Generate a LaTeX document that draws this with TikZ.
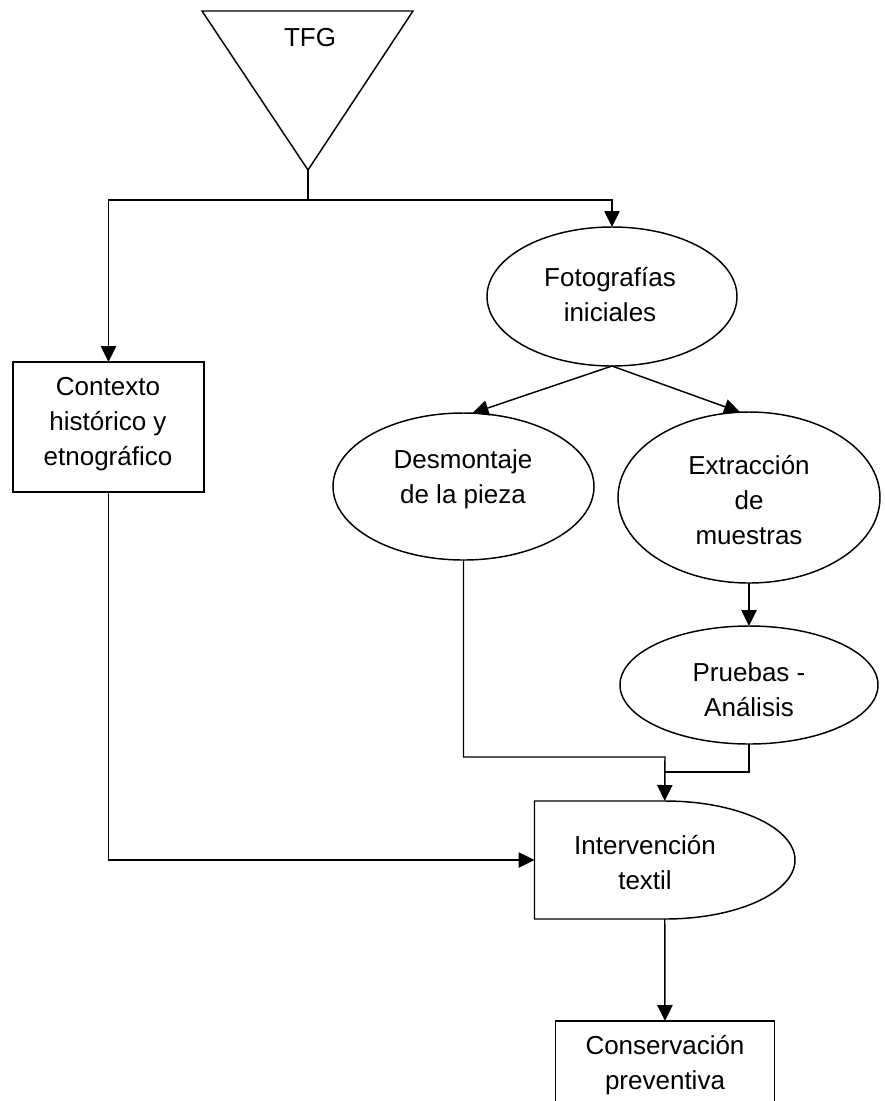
\documentclass[tikz,border=0pt]{standalone}
\usepackage{fontspec}
\setmainfont{Liberation Sans}
\usetikzlibrary{shapes.geometric,arrows.meta}

\tikzset{every picture/.style={line width=1.1pt}}
\tikzset{
  flecha/.style={-{Triangle[length=12pt,width=11.5pt]}},
  caja/.style={draw, rectangle, inner sep=0pt, outer sep=0pt},
  ovalo/.style={draw, ellipse, inner sep=0pt, outer sep=0pt},
  texto/.style={align=center, inner sep=0.75pt, font=\fontsize{19.5}{26.25}\selectfont},
}

\begin{document}
\begin{tikzpicture}[x=0.75pt,y=0.75pt,yscale=-1,xscale=1]
\clip (0,0) rectangle (885,1101);

%Shape: Triangle
\draw (202,11) -- (413,11) -- (308,170) -- cycle ;
\coordinate (tfgtip) at (308,170);
\coordinate (split) at (308,200);

%Shape: Rectangle
\node (ctx) [caja, minimum width=143.25pt, minimum height=97.5pt] at (108.5,427) {};
%Shape: Ellipse
\node (foto) [ovalo, minimum width=187.5pt, minimum height=104.25pt] at (612,296.5) {};
%Shape: Ellipse
\node (desm) [ovalo, minimum width=195.75pt, minimum height=110.25pt] at (463.5,486.5) {};
%Shape: Ellipse
\node (extr) [ovalo, minimum width=196.5pt, minimum height=128.25pt] at (749,497.5) {};
%Shape: Ellipse
\node (prue) [ovalo, minimum width=193.5pt, minimum height=88.5pt] at (749,685) {};
%Shape: Delay
\draw (534.5,801) -- (665,801) .. controls (736.8,801) and (795,827.4) .. (795,860) .. controls (795,892.6) and (736.8,919) .. (665,919) -- (534.5,919) -- cycle ;
\node (intv) [inner sep=0pt, outer sep=0pt, minimum width=195.375pt, minimum height=88.5pt] at (664.75,860) {};
%Shape: Rectangle
\node (cons) [caja, minimum width=164.25pt, minimum height=75pt] at (665,1071) {};

\coordinate (union) at (665,757);
\coordinate (cruce) at (665,772);

%Straight Lines
\draw (tfgtip) -- (split) ;
\draw [flecha] (split) -| (ctx.north) ;
\draw [flecha] (split) -| (foto.north) ;
\draw [flecha] (foto.south) -- (desm.83) ;
\draw [flecha] (foto.south) -- (extr.96) ;
\draw [flecha] (extr.south) -- (prue.north) ;
\draw [flecha] (desm.south) |- (union) -- (intv.north) ;
\draw (prue.south) |- (cruce) ;
\draw [flecha] (ctx.south) |- (intv.west) ;
\draw [flecha] (intv.south) -- (cons.north) ;

% Text Node
\node (tfgtxt) [texto] at (310,38) {TFG};
% Text Node
\node (ctxtxt) [texto, align=center] at (108,424.5) {Contexto\\histórico y\\etnográfico};
% Text Node
\node (fototxt) [texto] at (610,295) {Fotografías\\iniciales};
% Text Node
\node (desmtxt) [texto] at (463,479.5) {Desmontaje\\de la pieza};
% Text Node
\node (extrtxt) [texto] at (749,500) {Extracción\\de\\muestras};
% Text Node
\node (pruetxt) [texto] at (749,689.5) {Pruebas -\\Análisis};
% Text Node
\node (intvtxt) [texto] at (645,862.5) {Intervención\\textil};
% Text Node
\node (constxt) [texto] at (665,1065.5) {Conservación\\preventiva};

\end{tikzpicture}
\end{document}
